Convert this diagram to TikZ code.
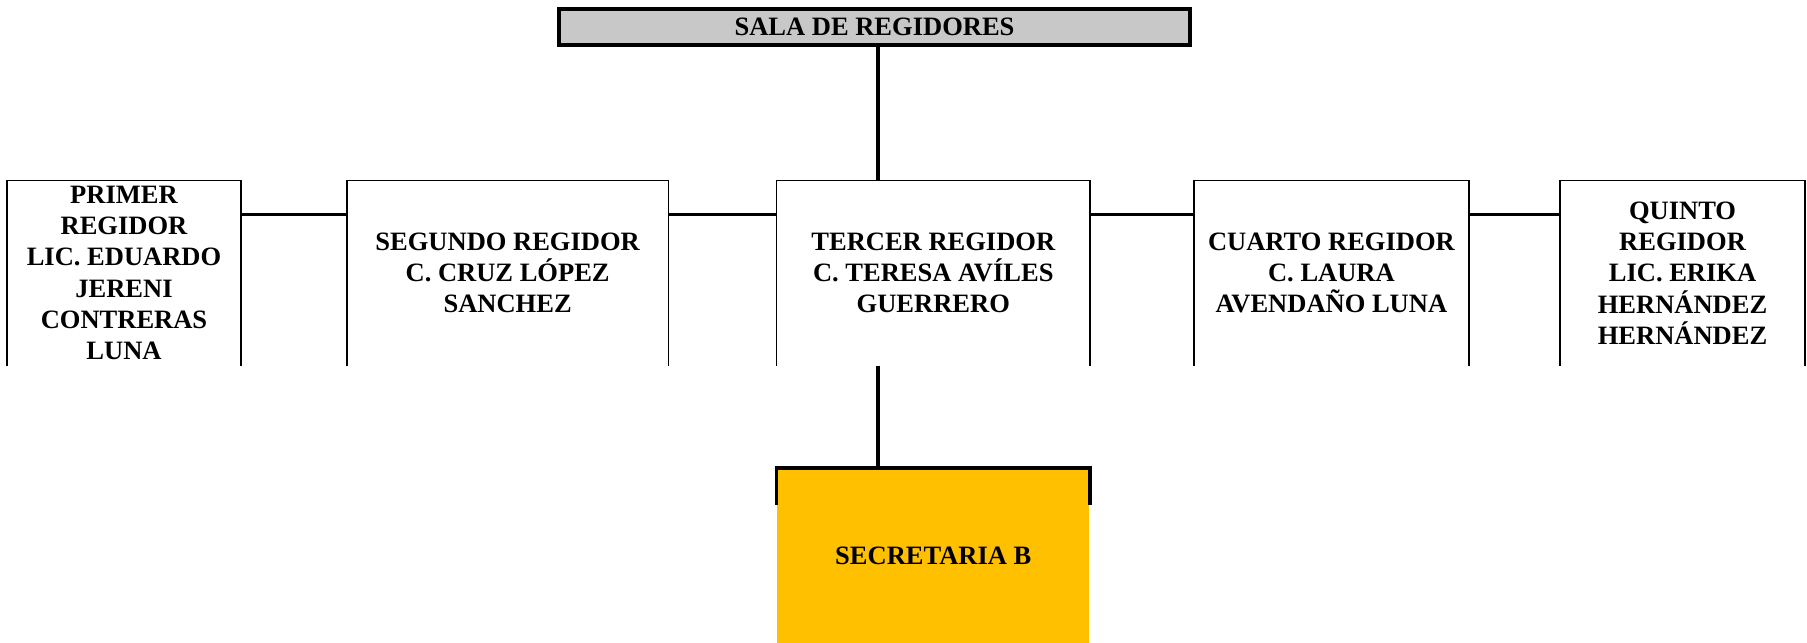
\documentclass[tikz,border=0pt]{standalone}
\usepackage{fontspec}
\setmainfont{Liberation Serif}
\usepackage{tikz}
\usetikzlibrary{positioning}

\definecolor{salagris}{HTML}{C8C8C8}
\definecolor{secreoro}{HTML}{FFC000}

\begin{document}
\begin{tikzpicture}[x=0.01cm,y=-0.01cm,inner sep=0pt,font=\fontsize{7.54}{8.9}\selectfont\bfseries]
\tikzstyle{sala} = [rectangle, draw, line width=1.1pt, fill=salagris, minimum width=6.30cm, minimum height=0.36cm]
\tikzstyle{regidor}=[rectangle,
                                    align=center,
                                    minimum height=1.835cm]
\tikzstyle{secre}=[rectangle, fill=secreoro, minimum width=3.12cm, minimum height=1.75cm]
\tikzstyle{conn}=[line width=1.1pt]
\useasboundingbox (0,0) rectangle (1807,642);
\node[sala] (sala) at (874.5,27) {SALA DE REGIDORES};
\node[regidor,minimum width=2.32cm] (p1) at (124,273) {PRIMER\\REGIDOR\\LIC. EDUARDO\\JERENI\\CONTRERAS\\LUNA};
\node[regidor,minimum width=3.20cm][right=1.06cm of p1] (p2) {SEGUNDO REGIDOR\\C. CRUZ LÓPEZ\\SANCHEZ};
\node[regidor,minimum width=3.12cm][right=1.08cm of p2] (p3) {TERCER REGIDOR\\C. TERESA AVÍLES\\GUERRERO};
\node[regidor,minimum width=2.73cm][right=1.04cm of p3] (p4) {CUARTO REGIDOR\\C. LAURA\\AVENDAÑO LUNA};
\node[regidor,minimum width=2.44cm][right=0.91cm of p4] (p5) {QUINTO\\REGIDOR\\LIC. ERIKA\\HERNÁNDEZ\\HERNÁNDEZ};
\node[secre][below=1.02cm of p3] (secre) {SECRETARIA B};
% cajas abiertas por abajo
\draw[line width=0.5pt] (p1.south west) -- (p1.north west) -- (p1.north east) -- (p1.south east)
          (p2.south west) -- (p2.north west) -- (p2.north east) -- (p2.south east)
          (p3.south west) -- (p3.north west) -- (p3.north east) -- (p3.south east)
          (p4.south west) -- (p4.north west) -- (p4.north east) -- (p4.south east)
          (p5.south west) -- (p5.north west) -- (p5.north east) -- (p5.south east);
\draw[conn] ([yshift=-0.37cm]secre.north west) -- (secre.north west) -- (secre.north east) -- ([yshift=-0.37cm]secre.north east);
% lineas
\draw[conn] ([xshift=0.035cm]sala.south) -- ([xshift=0.035cm]sala.south |- p3.north);
\draw[conn] ([xshift=0.035cm]sala.south |- p3.south) -- ([xshift=0.035cm]sala.south |- secre.north);
\draw[conn] ([yshift=-0.34cm]p1.north east) -- ([yshift=-0.34cm]p2.north west)
          ([yshift=-0.34cm]p2.north east) -- ([yshift=-0.34cm]p3.north west)
          ([yshift=-0.34cm]p3.north east) -- ([yshift=-0.34cm]p4.north west)
          ([yshift=-0.34cm]p4.north east) -- ([yshift=-0.34cm]p5.north west);
\end{tikzpicture}
\end{document}
